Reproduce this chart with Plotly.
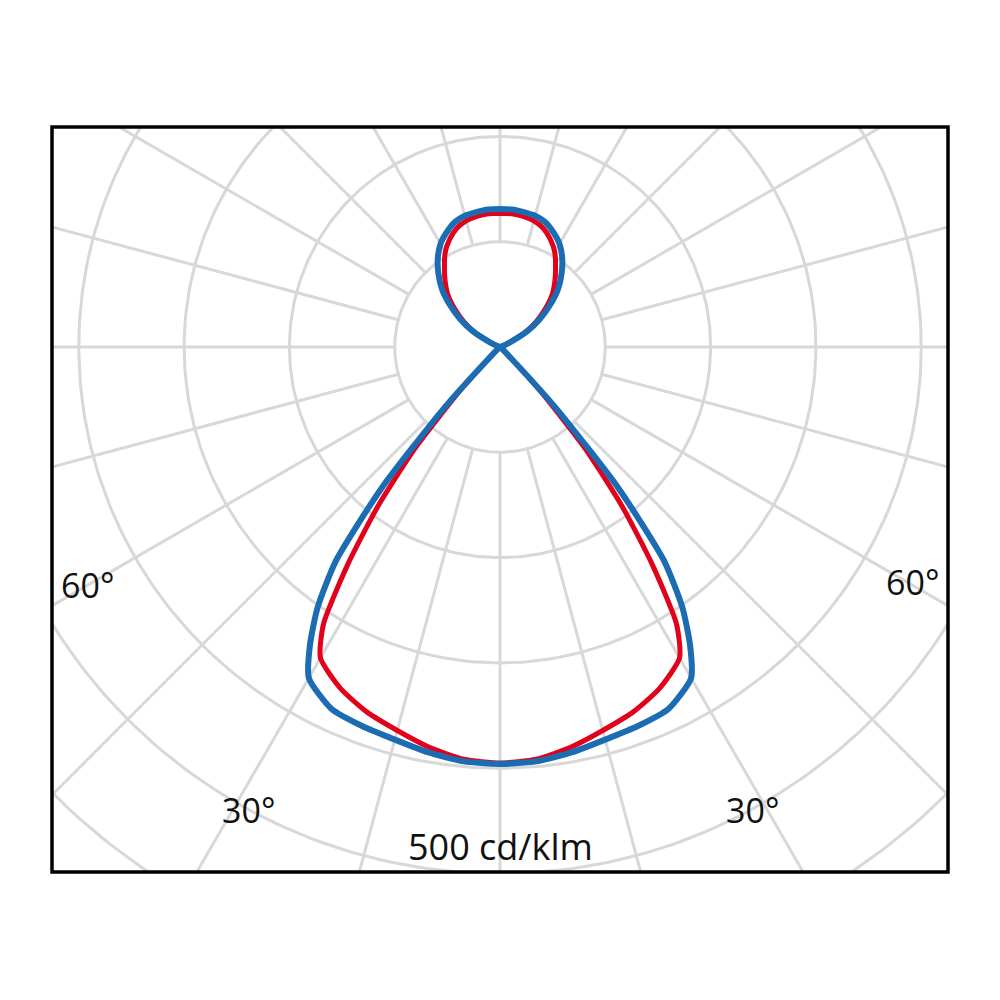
import numpy as np
import plotly.graph_objects as go

# luminous intensity, cd/klm, against angle from nadir (deg), symmetric
gamma = [0, 5, 10, 15, 20, 25, 30, 32.5, 35, 37.5, 40, 42.5, 45, 50, 60, 70, 80, 90,
         100, 105, 110, 115, 120, 125, 130, 135, 140, 145, 150, 155, 160, 165, 170, 175, 180]
red = [395, 393, 386, 377, 369, 358, 341, 312, 252, 190, 125, 55, 8, 1, 0, 0, 0, 0,
       0, 0, 2, 9, 27, 42, 56, 70, 81, 92, 104, 113, 120, 124, 126, 127, 127]
blue = [396, 395, 391, 386, 383, 379, 363, 336, 302, 256, 175, 78, 12, 2, 0, 0, 0, 0,
        0, 0, 2, 10, 30, 46, 62, 78, 91, 103, 113, 120, 126, 129, 130, 131, 131]

rings = [100, 200, 300, 400, 500, 600, 700]
spokes = list(range(0, 360, 15))
labels = [('60°', 87, 585), ('60°', 912, 582), ('30°', 248, 810), ('30°', 752, 810)]

grid_col = '#d8d8d8'
W = 984.0  # page has an 8px body margin

def to_xy(g, r):
	# full curve: right half then mirrored left half
	g = np.array(g, dtype=float)
	r = np.array(r, dtype=float)
	ga = np.concatenate([g, 360 - g[::-1]])
	ra = np.concatenate([r, r[::-1]])
	t = np.radians(ga)
	return ra * np.sin(t), -ra * np.cos(t)

def px(v):
	return (v - 8) / W

def py(v):
	return 1 - (v - 8) / W

fig = go.Figure()

t = np.linspace(0, 2 * np.pi, 361)
for rr in rings:
	fig.add_trace(go.Scatter(
		x = rr * np.cos(t), y = rr * np.sin(t),
		mode = 'lines', line = dict(color = grid_col, width = 3),
		hoverinfo = 'skip', showlegend = False))

for a in spokes:
	th = np.radians(a)
	fig.add_trace(go.Scatter(
		x = [100 * np.sin(th), 900 * np.sin(th)],
		y = [100 * np.cos(th), 900 * np.cos(th)],
		mode = 'lines', line = dict(color = grid_col, width = 3),
		hoverinfo = 'skip', showlegend = False))

x, y = to_xy(gamma, red)
fig.add_trace(go.Scatter(x = x, y = y, mode = 'lines',
	line = dict(color = '#e2001a', width = 5, shape = 'spline', smoothing = 0.6),
	showlegend = False))
x, y = to_xy(gamma, blue)
fig.add_trace(go.Scatter(x = x, y = y, mode = 'lines',
	line = dict(color = '#1b6cb3', width = 6, shape = 'spline', smoothing = 0.6),
	showlegend = False))

# pixel geometry: centre (500, 347), 105.3 px per 100 cd/klm
k = 1.053
fig.update_xaxes(range = [(52 - 500) / k, (948 - 500) / k], domain = [px(52), px(948)],
	visible = False, fixedrange = True)
fig.update_yaxes(range = [(347 - 872) / k, (347 - 127) / k], domain = [py(872), py(127)],
	visible = False, fixedrange = True)

fig.add_shape(type = 'rect', xref = 'paper', yref = 'paper',
	x0 = px(52), x1 = px(948), y0 = py(872), y1 = py(127),
	line = dict(color = 'black', width = 3.5), layer = 'above')

for txt, lx, ly in labels:
	fig.add_annotation(text = txt, xref = 'paper', yref = 'paper',
		x = px(lx), y = py(ly), showarrow = False,
		xanchor = 'center', yanchor = 'middle',
		font = dict(family = 'Open Sans', size = 34, color = '#111111'))

fig.add_annotation(text = '500 cd/klm', xref = 'paper', yref = 'paper',
	x = px(501), y = py(846), showarrow = False,
	xanchor = 'center', yanchor = 'middle',
	font = dict(family = 'Open Sans', size = 36, color = '#111111'))

fig.update_layout(
	width = W, height = W,
	margin = dict(l = 0, r = 0, t = 0, b = 0),
	paper_bgcolor = 'white', plot_bgcolor = 'white',
	)

fig.write_html('out.html')
